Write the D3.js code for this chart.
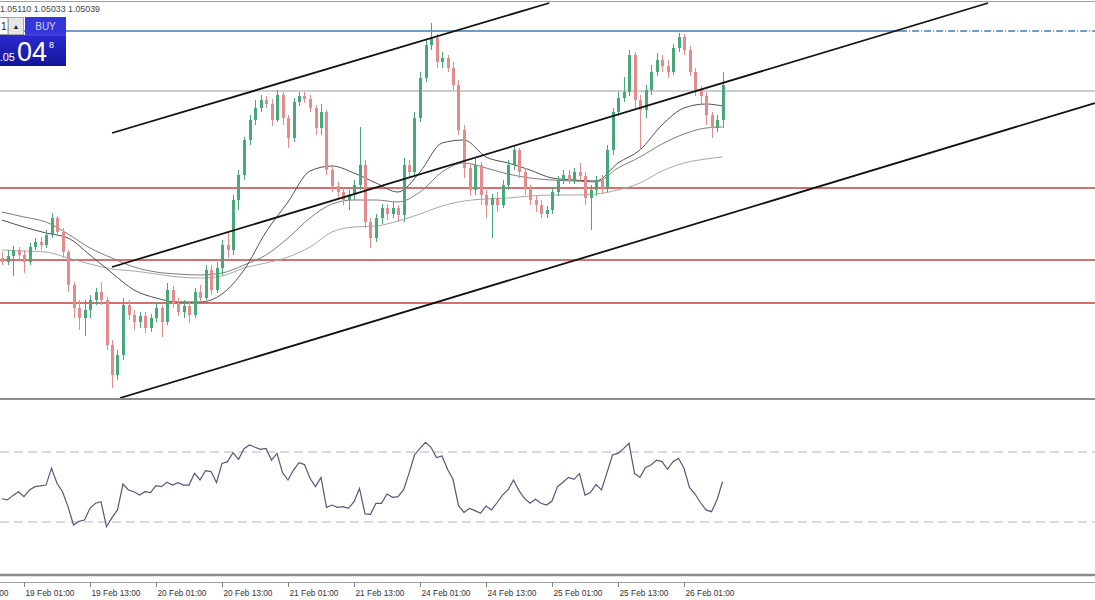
<!DOCTYPE html>
<html><head><meta charset="utf-8">
<script src="https://cdn.jsdelivr.net/npm/d3@7"></script>
<style>
html,body{margin:0;padding:0;background:#fff;}
svg{display:block;font-family:"Liberation Sans",Arial,sans-serif;}
</style></head><body>
<svg id="chart" width="1095" height="600"></svg>
<script>
// ---- DATA (hourly EURUSD-like candles) ----
const open=[1.04368,1.04352,1.04376,1.04400,1.04380,1.04352,1.04412,1.04432,1.04420,1.04460,
1.04528,1.04472,1.04392,1.04260,1.04168,1.04128,1.04160,1.04200,1.04232,1.04200,
1.04020,1.03900,1.03980,1.04180,1.04140,1.04112,1.04136,1.04088,1.04128,1.04168,
1.04112,1.04240,1.04188,1.04152,1.04176,1.04140,1.04232,1.04208,1.04320,1.04240,
1.04328,1.04420,1.04400,1.04600,1.04700,1.04840,1.04920,1.04968,1.05000,1.04984,
1.04920,1.05020,1.04928,1.04848,1.04992,1.05016,1.05004,1.04968,1.04888,1.04952,
1.04720,1.04656,1.04632,1.04600,1.04620,1.04660,1.04740,1.04512,1.04448,1.04528,
1.04568,1.04544,1.04568,1.04540,1.04740,1.04712,1.04928,1.05088,1.05220,1.05248,
1.05152,1.05168,1.05128,1.05060,1.04880,1.04728,1.04640,1.04740,1.04620,1.04580,
1.04608,1.04580,1.04660,1.04740,1.04800,1.04712,1.04648,1.04600,1.04580,1.04544,
1.04560,1.04632,1.04680,1.04700,1.04680,1.04712,1.04696,1.04608,1.04640,1.04680,
1.04648,1.04800,1.04952,1.05008,1.05032,1.05180,1.05000,1.04960,1.05040,1.05112,
1.05160,1.05136,1.05112,1.05208,1.05252,1.05200,1.05112,1.05040,1.05016,1.04940,
1.04888,1.04920];
const high=[1.04392,1.04400,1.04416,1.04412,1.04400,1.04428,1.04448,1.04452,1.04480,1.04548,
1.04536,1.04488,1.04400,1.04272,1.04200,1.04200,1.04220,1.04248,1.04272,1.04212,
1.04040,1.04000,1.04208,1.04200,1.04160,1.04152,1.04152,1.04144,1.04192,1.04180,
1.04268,1.04256,1.04208,1.04200,1.04192,1.04248,1.04260,1.04340,1.04340,1.04352,
1.04440,1.04472,1.04620,1.04720,1.04852,1.04940,1.05000,1.05020,1.05016,1.05004,
1.05040,1.05032,1.04940,1.05008,1.05032,1.05032,1.05020,1.04980,1.04984,1.04960,
1.04740,1.04672,1.04648,1.04640,1.04680,1.04892,1.04760,1.04528,1.04544,1.04584,
1.04584,1.04592,1.04580,1.04768,1.04760,1.04952,1.05112,1.05240,1.05308,1.05264,
1.05192,1.05180,1.05152,1.05080,1.04900,1.04744,1.04768,1.04752,1.04640,1.04624,
1.04632,1.04680,1.04760,1.04816,1.04808,1.04728,1.04660,1.04616,1.04600,1.04576,
1.04648,1.04696,1.04720,1.04720,1.04728,1.04748,1.04712,1.04660,1.04696,1.04700,
1.04820,1.04968,1.05032,1.05092,1.05200,1.05192,1.05020,1.05060,1.05140,1.05188,
1.05180,1.05160,1.05224,1.05268,1.05264,1.05216,1.05128,1.05056,1.05032,1.04952,
1.04940,1.05112];
const low=[1.04340,1.04340,1.04296,1.04360,1.04308,1.04340,1.04400,1.04400,1.04408,1.04448,
1.04456,1.04368,1.04232,1.04128,1.04080,1.04056,1.04128,1.04180,1.04180,1.04000,
1.03848,1.03880,1.03960,1.04120,1.04080,1.04088,1.04068,1.04072,1.04112,1.04052,
1.04100,1.04168,1.04136,1.04128,1.04108,1.04128,1.04192,1.04200,1.04220,1.04228,
1.04300,1.04368,1.04380,1.04560,1.04680,1.04820,1.04900,1.04952,1.04968,1.04896,
1.04912,1.04900,1.04808,1.04832,1.04976,1.04988,1.04952,1.04860,1.04860,1.04700,
1.04632,1.04608,1.04580,1.04560,1.04600,1.04640,1.04488,1.04408,1.04432,1.04504,
1.04520,1.04528,1.04512,1.04512,1.04688,1.04696,1.04912,1.05072,1.05200,1.05128,
1.05128,1.05112,1.05040,1.04860,1.04688,1.04616,1.04620,1.04580,1.04528,1.04448,
1.04552,1.04568,1.04640,1.04720,1.04688,1.04620,1.04580,1.04552,1.04528,1.04528,
1.04544,1.04616,1.04664,1.04664,1.04664,1.04672,1.04580,1.04480,1.04616,1.04624,
1.04632,1.04780,1.04936,1.04992,1.05016,1.04960,1.04800,1.04928,1.05020,1.05096,
1.05112,1.05088,1.05100,1.05192,1.05180,1.05096,1.05016,1.04984,1.04900,1.04848,
1.04872,1.04888];
const close=[1.04352,1.04376,1.04400,1.04380,1.04352,1.04412,1.04432,1.04420,1.04460,1.04528,
1.04472,1.04392,1.04260,1.04168,1.04128,1.04160,1.04200,1.04232,1.04200,1.04020,
1.03900,1.03980,1.04180,1.04140,1.04112,1.04136,1.04088,1.04128,1.04168,1.04112,
1.04240,1.04188,1.04152,1.04176,1.04140,1.04232,1.04208,1.04320,1.04240,1.04328,
1.04420,1.04400,1.04600,1.04700,1.04840,1.04920,1.04968,1.05000,1.04984,1.04920,
1.05020,1.04928,1.04848,1.04992,1.05016,1.05004,1.04968,1.04888,1.04952,1.04720,
1.04656,1.04632,1.04600,1.04620,1.04660,1.04740,1.04512,1.04448,1.04528,1.04568,
1.04544,1.04568,1.04540,1.04740,1.04712,1.04928,1.05088,1.05220,1.05248,1.05152,
1.05168,1.05128,1.05060,1.04880,1.04728,1.04640,1.04740,1.04620,1.04580,1.04608,
1.04580,1.04660,1.04740,1.04800,1.04712,1.04648,1.04600,1.04580,1.04544,1.04560,
1.04632,1.04680,1.04700,1.04680,1.04712,1.04696,1.04608,1.04640,1.04680,1.04648,
1.04800,1.04952,1.05008,1.05032,1.05180,1.05000,1.04960,1.05040,1.05112,1.05160,
1.05136,1.05112,1.05208,1.05252,1.05200,1.05112,1.05040,1.05016,1.04940,1.04888,
1.04920,1.05060];

// Moving averages sampled every 4 bars (bar index -> value)
const maIndex=[0,4,8,12,16,20,24,28,32,36,40,44,48,52,56,60,64,68,72,76,80,84,88,92,96,100,104,108,112,116,120,124,128,131];
const maFast=[1.04520,1.04492,1.04468,1.04448,1.04380,1.04308,1.04240,1.04208,1.04192,1.04192,
1.04224,1.04320,1.04472,1.04592,1.04716,1.04736,1.04708,1.04668,1.04632,1.04712,
1.04828,1.04840,1.04772,1.04748,1.04720,1.04688,1.04680,1.04676,1.04748,1.04800,
1.04900,1.04968,1.04984,1.04976];
const maMid=[1.04552,1.04532,1.04512,1.04464,1.04408,1.04368,1.04332,1.04312,1.04304,1.04300,
1.04308,1.04340,1.04380,1.04448,1.04528,1.04584,1.04600,1.04600,1.04592,1.04632,
1.04712,1.04748,1.04728,1.04704,1.04688,1.04680,1.04676,1.04672,1.04728,1.04772,
1.04824,1.04864,1.04888,1.04892];
const maSlow=[1.04400,1.04396,1.04392,1.04368,1.04344,1.04324,1.04316,1.04304,1.04292,1.04288,
1.04296,1.04328,1.04348,1.04372,1.04412,1.04472,1.04492,1.04496,1.04516,1.04544,
1.04576,1.04596,1.04604,1.04608,1.04616,1.04620,1.04620,1.04624,1.04640,1.04668,
1.04716,1.04748,1.04764,1.04772];

// RSI per bar
const rsi=[43.3,42.6,45.2,47.3,44.5,48.3,50.2,50.6,51.1,60.7,
52.1,47.3,38.8,28.3,30.4,31.1,37.8,40.7,41.6,27.3,
32.5,36.9,51.7,48.3,47.3,45.4,47.3,46.8,50.8,50.2,
52.7,51.1,52.5,51.1,51.1,57.8,54.0,59.3,58.8,52.5,
63.5,64.5,69.6,65.8,71.9,74.0,72.7,71.5,72.1,65.4,
69.2,58.2,54.0,59.7,63.9,62.8,55.0,50.2,55.5,38.4,
39.7,38.4,38.8,37.8,41.6,49.2,34.6,34.4,40.7,40.7,
46.0,44.1,44.5,48.3,57.8,68.3,72.1,75.5,72.7,66.8,
67.7,60.1,54.4,39.3,35.5,37.8,36.5,35.0,39.1,36.9,
41.0,45.4,48.3,54.0,47.9,43.5,40.7,43.0,40.7,39.7,
42.0,50.2,52.7,55.5,54.4,57.6,45.4,46.8,51.5,48.3,
58.2,68.3,69.2,71.9,75.0,57.8,55.5,61.2,62.6,65.4,
64.5,60.1,64.5,66.4,60.7,49.8,46.0,41.0,36.9,35.9,
42.6,53.0];
const rsiLevels=[70,30];

// time axis
const tickIndex=[-8,4,16,28,40,52,64,76,88,100,112,124];
const tickLabels=["18 Feb 13:00","19 Feb 01:00","19 Feb 13:00","20 Feb 01:00","20 Feb 13:00","21 Feb 01:00","21 Feb 13:00","24 Feb 01:00","24 Feb 13:00","25 Feb 01:00","25 Feb 13:00","26 Feb 01:00"];

// drawn objects
const redLevels=[1.04648,1.04360,1.04188];
const blueLevel=1.05276, blueSolidEnd=163.3;
const grayLevel=1.05036;
const channelStart=[[20,1.04868],[20,1.04332],[21.45,1.03808]];
const channelEnd=[[99.5,1.05388],[179.3,1.05388],[198.7,1.04988]];
const headerText="1.05110 1.05033 1.05039";

// ---- DRAWING ----
const W=1095,H=600;
const svg=d3.select("#chart");
const x=d3.scaleLinear().domain([0,131]).range([2,722.5]);
const y=d3.scaleLinear().domain([1.0380,1.0540]).range([400,0]);
const yR=d3.scaleLinear().domain([0,100]).range([574.5,399.5]);

svg.append("rect").attr("width",W).attr("height",H).attr("fill","#fff");
svg.append("defs").append("clipPath").attr("id","mainclip")
  .append("rect").attr("x",0).attr("y",2).attr("width",W).attr("height",396);
const main=svg.append("g").attr("clip-path","url(#mainclip)");

// horizontal levels
main.append("line").attr("x1",0).attr("x2",W).attr("y1",y(grayLevel)).attr("y2",y(grayLevel))
  .attr("stroke","#9a9a9a").attr("stroke-width",1);
main.selectAll(".red").data(redLevels).join("line")
  .attr("x1",0).attr("x2",W).attr("y1",d=>y(d)).attr("y2",d=>y(d))
  .attr("stroke","#c94040").attr("stroke-width",1.3);
main.append("line").attr("x1",0).attr("x2",x(blueSolidEnd)).attr("y1",y(blueLevel)).attr("y2",y(blueLevel))
  .attr("stroke","#3f7db5").attr("stroke-width",1.5);
main.append("line").attr("x1",x(blueSolidEnd)).attr("x2",W).attr("y1",y(blueLevel)).attr("y2",y(blueLevel))
  .attr("stroke","#3f7db5").attr("stroke-width",1.3).attr("stroke-dasharray","7,2,1,2");

// moving averages
const maLine=d3.line().x((d,i)=>x(maIndex[i])).y(d=>y(d)).curve(d3.curveMonotoneX);
[[maSlow,"#a8a8a8"],[maMid,"#7d7d7d"],[maFast,"#505050"]].forEach(([arr,c])=>{
  main.append("path").attr("d",maLine(arr)).attr("fill","none").attr("stroke",c).attr("stroke-width",1);
});

// candles
const bars=d3.range(close.length);
const up="#48a978", dn="#e48c8c";
const cg=main.append("g");
cg.selectAll(".wick").data(bars).join("line")
  .attr("x1",i=>Math.round(x(i))+0.5).attr("x2",i=>Math.round(x(i))+0.5)
  .attr("y1",i=>y(high[i])).attr("y2",i=>y(low[i]))
  .attr("stroke",i=>close[i]>=open[i]?up:dn).attr("stroke-width",1);
cg.selectAll(".body").data(bars).join("rect")
  .attr("x",i=>Math.round(x(i))-1).attr("width",3)
  .attr("y",i=>y(Math.max(open[i],close[i])))
  .attr("height",i=>Math.max(1,Math.abs(y(open[i])-y(close[i]))))
  .attr("fill",i=>close[i]>=open[i]?up:dn);

// channel lines
main.selectAll(".chan").data(channelStart).join("line")
  .attr("x1",d=>x(d[0])).attr("y1",d=>y(d[1]))
  .attr("x2",(d,k)=>x(channelEnd[k][0])).attr("y2",(d,k)=>y(channelEnd[k][1]))
  .attr("stroke","#111").attr("stroke-width",1.8);

// panel borders
svg.append("line").attr("x1",0).attr("x2",W).attr("y1",1.5).attr("y2",1.5).attr("stroke","#a0a0a0").attr("stroke-width",1);
svg.append("line").attr("x1",0).attr("x2",W).attr("y1",399).attr("y2",399).attr("stroke","#8c8c8c").attr("stroke-width",2.2);
svg.append("line").attr("x1",0).attr("x2",W).attr("y1",575).attr("y2",575).attr("stroke","#8c8c8c").attr("stroke-width",2.5);
svg.append("line").attr("x1",0).attr("x2",W).attr("y1",582.5).attr("y2",582.5).attr("stroke","#a0a0a0").attr("stroke-width",1);

// RSI
svg.selectAll(".rl").data(rsiLevels).join("line")
  .attr("x1",0).attr("x2",W).attr("y1",d=>yR(d)).attr("y2",d=>yR(d))
  .attr("stroke","#b4b4cc").attr("stroke-width",1).attr("stroke-dasharray","9,5");
svg.append("path").attr("d",d3.line().x((d,i)=>x(i)).y(d=>yR(d))(rsi))
  .attr("fill","none").attr("stroke","#56567a").attr("stroke-width",1.2);

// time axis
const ax=svg.append("g");
ax.selectAll(".tk").data(tickIndex).join("line")
  .attr("x1",d=>Math.round(x(d))+0.5).attr("x2",d=>Math.round(x(d))+0.5)
  .attr("y1",582.5).attr("y2",587).attr("stroke","#808080");
ax.selectAll(".tl").data(tickIndex).join("text")
  .attr("x",d=>x(d)+1.5).attr("y",596).attr("font-size",9).attr("fill","#333")
  .attr("textLength",49).attr("lengthAdjust","spacingAndGlyphs")
  .text((d,k)=>tickLabels[k]);

// header text
svg.append("text").attr("x",0).attr("y",12).attr("font-size",9).attr("fill","#444")
  .attr("textLength",100).attr("lengthAdjust","spacingAndGlyphs").text(headerText);

// one-click trading panel
const p=svg.append("g");
p.append("rect").attr("x",-1).attr("y",17.5).attr("width",9).attr("height",17).attr("fill","#fff").attr("stroke","#999");
p.append("text").attr("x",1).attr("y",30).attr("font-size",10).attr("fill","#222").text("1");
p.append("rect").attr("x",8.5).attr("y",17.5).attr("width",15).attr("height",17).attr("fill","#e6e6e6").attr("stroke","#aaa");
p.append("text").attr("x",16).attr("y",29).attr("font-size",7).attr("text-anchor","middle").attr("fill","#222").text("▲");
const grad=svg.select("defs").append("linearGradient").attr("id","bg").attr("x1",0).attr("y1",0).attr("x2",0).attr("y2",1);
grad.append("stop").attr("offset","0%").attr("stop-color","#2a2ad0");
grad.append("stop").attr("offset","100%").attr("stop-color","#14149a");
p.append("rect").attr("x",25).attr("y",17).attr("width",41).attr("height",18).attr("fill","#3535d8");
p.append("text").attr("x",45.5).attr("y",30).attr("font-size",10).attr("text-anchor","middle").attr("fill","#cdd5ff").text("BUY");
p.append("rect").attr("x",0).attr("y",35).attr("width",66).attr("height",31).attr("fill","url(#bg)");
p.append("line").attr("x1",25).attr("x2",66).attr("y1",35).attr("y2",35).attr("stroke","#5a5aee").attr("stroke-width",0.8);
p.append("text").attr("x",15).attr("y",61).attr("font-size",11).attr("text-anchor","end").attr("fill","#fff").text("1.05");
p.append("text").attr("x",17).attr("y",61).attr("font-size",27).attr("fill","#fff").text("04");
p.append("text").attr("x",49).attr("y",48).attr("font-size",9).attr("fill","#fff").text("8");
</script>
</body></html>
